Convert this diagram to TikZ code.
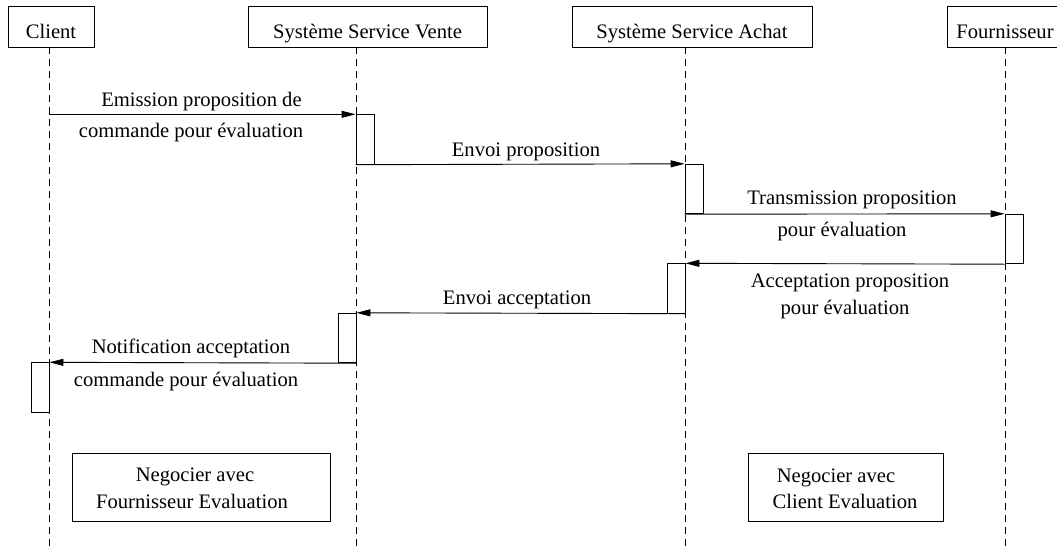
\documentclass[tikz,border=0pt]{standalone}
\usepackage{fontspec}
\setmainfont{Liberation Serif}
\usetikzlibrary{arrows.meta}
\begin{document}
\begin{tikzpicture}[x=1pt,y=-1pt,
  every node/.style={font=\fontsize{20.6}{24}\selectfont},
  hdr/.style={draw,line width=0.9pt,inner sep=0pt,minimum height=41pt,text height=24pt,text depth=1pt},
  life/.style={line width=0.9pt,dash pattern=on 7pt off 5pt},
  act/.style={draw,line width=0.9pt,inner sep=0pt,minimum width=18pt,minimum height=49.5pt},
  msg/.style={line width=0.9pt,-{Triangle[length=14pt,width=7pt]}},
  lbl/.style={anchor=base,inner sep=0pt},
  note/.style={draw,line width=0.9pt,inner sep=0pt,minimum height=68pt}]
\useasboundingbox (0,0) rectangle (1057,546);
% headers
\node[hdr,minimum width=86pt] (client) at (51,26.5) {Client};
\node[hdr,minimum width=239pt] (ssv) at (367.5,26.5) {Système Service Vente};
\node[hdr,minimum width=240pt] (ssa) at (692,26.5) {Système Service Achat};
\node[hdr,minimum width=116pt] (four) at (1005,26.5) {Fournisseur};
% lifelines
\coordinate (clT) at (49,47);   \coordinate (clB) at (49,546);
\coordinate (svT) at (356,47);  \coordinate (svB) at (356,546);
\coordinate (saT) at (685,47);  \coordinate (saB) at (685,546);
\coordinate (foT) at (1005,47); \coordinate (foB) at (1005,546);
\draw[life] (clT) -- (clB);
\draw[life] (svT) -- (svB);
\draw[life] (saT) -- (saB);
\draw[life] (foT) -- (foB);
% activations
\node[act] (a1) at (365,139.5) {};
\node[act] (a2) at (694,189) {};
\node[act] (a3) at (1014,239) {};
\node[act] (a4) at (676,288.5) {};
\node[act] (a5) at (347,338) {};
\node[act] (a6) at (40,387.5) {};
% messages
\draw[msg] (clT |- a1.north west) -- (a1.north west);
\draw[msg] (a1.south west) -- (a2.north west);
\draw[msg] (a2.south west) -- (a3.north west);
\draw[msg] (a3.south west) -- (a4.north east);
\draw[msg] (a4.south east) -- (a5.north east);
\draw[msg] (a5.south east) -- (a6.north east);
% labels
\node[lbl] (m1a) at (201.5,106) {Emission proposition de};
\node[lbl] (m1b) at (191,137) {commande pour évaluation};
\node[lbl] (m2) at (526,156) {Envoi proposition};
\node[lbl] (m3a) at (852,204) {Transmission proposition};
\node[lbl] (m3b) at (842,236) {pour évaluation};
\node[lbl] (m4a) at (850,287) {Acceptation proposition};
\node[lbl] (m4b) at (845,314) {pour évaluation};
\node[lbl] (m5) at (517,304) {Envoi acceptation};
\node[lbl] (m6a) at (191,353) {Notification acceptation};
\node[lbl] (m6b) at (186,386) {commande pour évaluation};
% notes
\node[note,minimum width=258pt] (n1) at (201,487) {};
\node[lbl] (n1a) at (195,481) {Negocier avec};
\node[lbl] (n1b) at (192,508) {Fournisseur Evaluation};
\node[note,minimum width=195pt] (n2) at (845.5,487) {};
\node[lbl] (n2a) at (836,482) {Negocier avec};
\node[lbl] (n2b) at (845,508) {Client Evaluation};
\end{tikzpicture}
\end{document}
